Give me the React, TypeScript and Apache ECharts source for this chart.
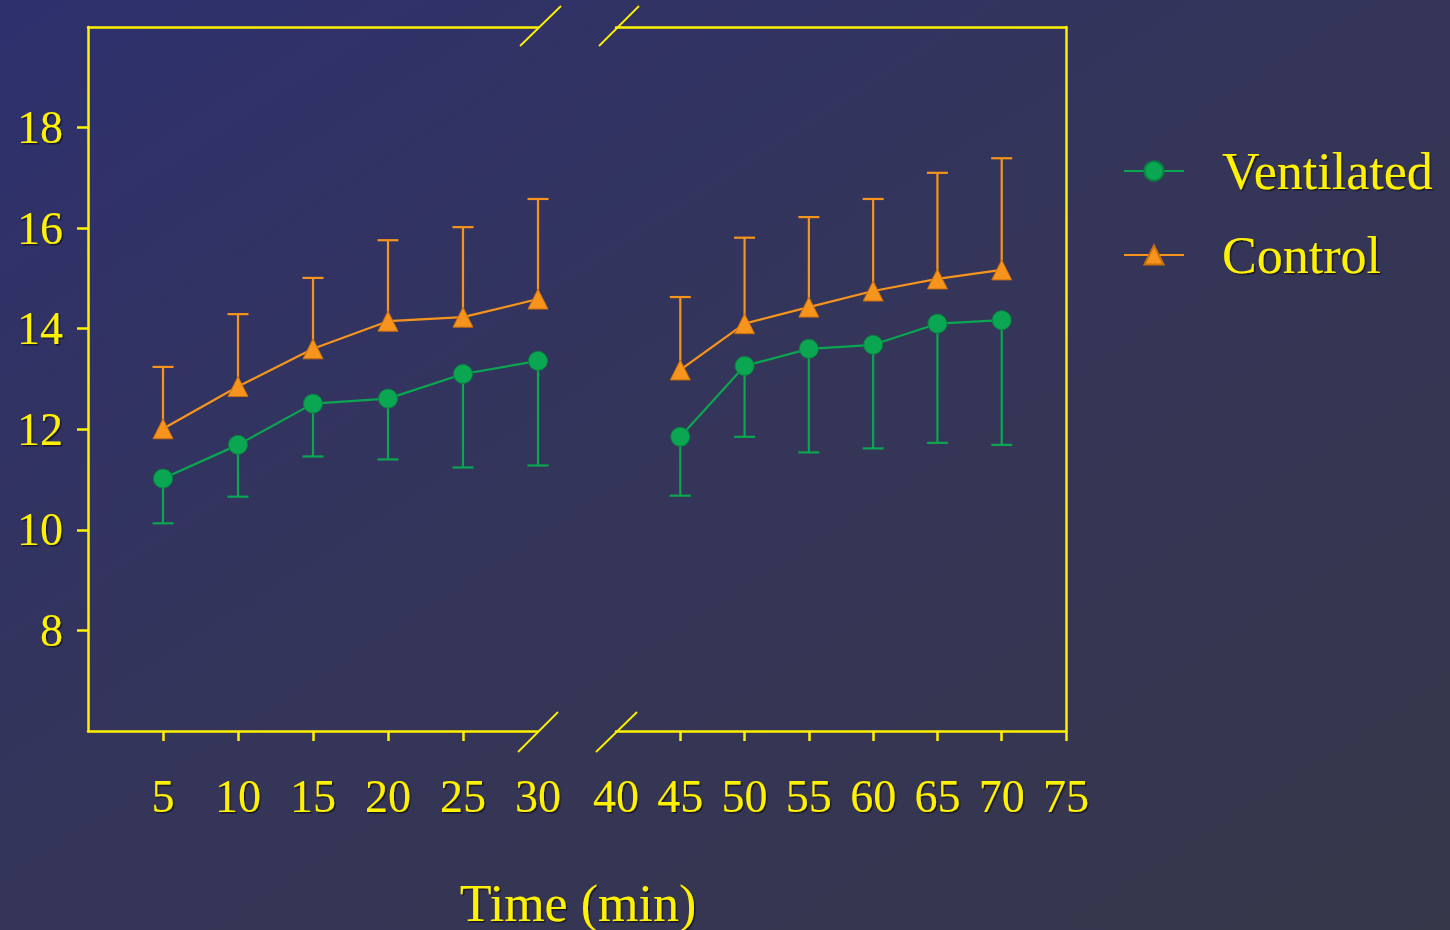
import React, { useEffect, useRef } from "react";
import * as echarts from "echarts";

const timesLeft = [5, 10, 15, 20, 25, 30];
const timesRight = [45, 50, 55, 60, 65, 70];

const ventilatedMean = [11.02, 11.69, 12.51, 12.61, 13.1, 13.36, 11.85, 13.26, 13.6, 13.68, 14.1, 14.17];
const ventilatedLower = [10.13, 10.66, 11.46, 11.4, 11.24, 11.28, 10.68, 11.85, 11.54, 11.62, 11.73, 11.69];

const controlMean = [12.01, 12.85, 13.6, 14.15, 14.23, 14.59, 13.18, 14.1, 14.43, 14.75, 14.99, 15.17];
const controlUpper = [13.24, 14.29, 15.01, 15.76, 16.02, 16.58, 14.63, 15.81, 16.22, 16.58, 17.1, 17.39];

const leftTicks = [5, 10, 15, 20, 25];
const leftLabels = [5, 10, 15, 20, 25, 30];
const rightTicks = [45, 50, 55, 60, 65, 70, 75];
const rightLabels = [40, 45, 50, 55, 60, 65, 70, 75];
const yLabels = [8, 10, 12, 14, 16, 18];

const YELLOW = "#fff200";
const GREEN = "#0aa651";
const GREEN_DARK = "#07813f";
const ORANGE = "#f7941d";
const ORANGE_DARK = "#c96f0c";
const FONT = '"Liberation Serif", "Times New Roman", serif';

const shadow = {
  textShadowColor: "rgba(0,0,0,0.55)",
  textShadowOffsetX: 1.5,
  textShadowOffsetY: 1.5,
  textShadowBlur: 1,
};

function errorBars(name: string, color: string, xs: number[], means: number[], bounds: number[], gi: number) {
  return {
    type: "custom",
    name,
    xAxisIndex: gi,
    yAxisIndex: gi,
    z: 1,
    silent: true,
    data: xs.map((x, i) => [x, means[i], bounds[i]]),
    renderItem: (params: any, api: any) => {
      const p0 = api.coord([api.value(0), api.value(1)]);
      const p1 = api.coord([api.value(0), api.value(2)]);
      const half = 10.5;
      const style = { stroke: color, lineWidth: 2.2 };
      return {
        type: "group",
        children: [
          { type: "line", shape: { x1: p0[0], y1: p0[1], x2: p1[0], y2: p1[1] }, style },
          { type: "line", shape: { x1: p1[0] - half, y1: p1[1], x2: p1[0] + half, y2: p1[1] }, style },
        ],
      };
    },
  };
}

function lineSeries(name: string, color: string, border: string, symbol: string, size: number, xs: number[], ys: number[], gi: number) {
  return {
    type: "line",
    name,
    xAxisIndex: gi,
    yAxisIndex: gi,
    z: 3,
    symbol,
    symbolSize: size,
    showSymbol: true,
    data: xs.map((x, i) => [x, ys[i]]),
    lineStyle: { color, width: 2.2 },
    itemStyle: { color, borderColor: border, borderWidth: 1 },
  };
}

export default function App() {
  const ref = useRef<HTMLDivElement>(null);

  useEffect(() => {
    if (!ref.current) return;
    const chart = echarts.init(ref.current, null, { renderer: "svg" });
    const axisLineStyle = { color: YELLOW, width: 2.5 };
    const labelStyle = { color: YELLOW, fontFamily: FONT, fontSize: 46, ...shadow };

    const n = timesLeft.length;
    const option: any = {
      animation: false,
      backgroundColor: {
        type: "linear",
        x: 0,
        y: 0,
        x2: 1,
        y2: 1,
        colorStops: [
          { offset: 0, color: "#2e306e" },
          { offset: 0.45, color: "#34355a" },
          { offset: 1, color: "#37374a" },
        ],
      },
      grid: [
        { left: 88, top: 27, width: 450, height: 704 },
        { left: 616, top: 27, width: 450, height: 704 },
      ],
      xAxis: [
        {
          gridIndex: 0, type: "value", min: 0, max: 30, interval: 5, position: "bottom",
          axisLine: { show: true, onZero: false, lineStyle: axisLineStyle },
          axisTick: { show: true, length: 10, customValues: leftTicks, lineStyle: axisLineStyle },
          axisLabel: { show: true, customValues: leftLabels, margin: 42, ...labelStyle },
          splitLine: { show: false },
        },
        {
          gridIndex: 1, type: "value", min: 40, max: 75, interval: 5, position: "bottom",
          axisLine: { show: true, onZero: false, lineStyle: axisLineStyle },
          axisTick: { show: true, length: 10, customValues: rightTicks, lineStyle: axisLineStyle },
          axisLabel: { show: true, customValues: rightLabels, margin: 42, ...labelStyle },
          splitLine: { show: false },
        },
        {
          gridIndex: 0, type: "value", min: 0, max: 30, position: "top",
          axisLine: { show: true, onZero: false, lineStyle: axisLineStyle },
          axisTick: { show: false }, axisLabel: { show: false }, splitLine: { show: false },
        },
        {
          gridIndex: 1, type: "value", min: 40, max: 75, position: "top",
          axisLine: { show: true, onZero: false, lineStyle: axisLineStyle },
          axisTick: { show: false }, axisLabel: { show: false }, splitLine: { show: false },
        },
      ],
      yAxis: [
        {
          gridIndex: 0, type: "value", min: 6, max: 20, interval: 2, position: "left",
          axisLine: { show: true, onZero: false, lineStyle: axisLineStyle },
          axisTick: { show: true, length: 11, customValues: yLabels, lineStyle: axisLineStyle },
          axisLabel: { show: true, customValues: yLabels, margin: 25, ...labelStyle },
          splitLine: { show: false },
        },
        {
          gridIndex: 1, type: "value", min: 6, max: 20, interval: 2, position: "right",
          axisLine: { show: true, onZero: false, lineStyle: axisLineStyle },
          axisTick: { show: false }, axisLabel: { show: false }, splitLine: { show: false },
        },
      ],
      legend: {
        orient: "vertical",
        left: 1118,
        top: 136,
        itemWidth: 60,
        itemHeight: 24,
        itemGap: 24,
        data: ["Ventilated", "Control"],
        textStyle: {
          color: YELLOW,
          fontFamily: FONT,
          fontSize: 52,
          lineHeight: 60,
          padding: [0, 0, 0, 33],
          ...shadow,
        },
      },
      series: [
        lineSeries("Ventilated", GREEN, GREEN_DARK, "circle", 19, timesLeft, ventilatedMean.slice(0, n), 0),
        lineSeries("Control", ORANGE, ORANGE_DARK, "triangle", 20, timesLeft, controlMean.slice(0, n), 0),
        lineSeries("Ventilated", GREEN, GREEN_DARK, "circle", 19, timesRight, ventilatedMean.slice(n), 1),
        lineSeries("Control", ORANGE, ORANGE_DARK, "triangle", 20, timesRight, controlMean.slice(n), 1),
        errorBars("ventErrL", GREEN, timesLeft, ventilatedMean.slice(0, n), ventilatedLower.slice(0, n), 0),
        errorBars("ctrlErrL", ORANGE, timesLeft, controlMean.slice(0, n), controlUpper.slice(0, n), 0),
        errorBars("ventErrR", GREEN, timesRight, ventilatedMean.slice(n), ventilatedLower.slice(n), 1),
        errorBars("ctrlErrR", ORANGE, timesRight, controlMean.slice(n), controlUpper.slice(n), 1),
      ],
      graphic: [
        { type: "line", shape: { x1: 520, y1: 46, x2: 561, y2: 6 }, style: { stroke: YELLOW, lineWidth: 1.8 } },
        { type: "line", shape: { x1: 599, y1: 46, x2: 639, y2: 6 }, style: { stroke: YELLOW, lineWidth: 1.8 } },
        { type: "line", shape: { x1: 518, y1: 752, x2: 558, y2: 712 }, style: { stroke: YELLOW, lineWidth: 1.8 } },
        { type: "line", shape: { x1: 596, y1: 752, x2: 637, y2: 712 }, style: { stroke: YELLOW, lineWidth: 1.8 } },
        {
          type: "text",
          x: 578,
          y: 903,
          style: {
            text: "Time (min)",
            fill: YELLOW,
            font: `52px ${FONT}`,
            textAlign: "center",
            textVerticalAlign: "middle",
            textShadowColor: "rgba(0,0,0,0.55)",
            textShadowOffsetX: 1.5,
            textShadowOffsetY: 1.5,
            textShadowBlur: 1,
          },
        },
      ],
    };
    chart.setOption(option);
    return () => chart.dispose();
  }, []);

  return <div ref={ref} style={{ position: "absolute", left: 0, top: 0, width: 1450, height: 930 }} />;
}
